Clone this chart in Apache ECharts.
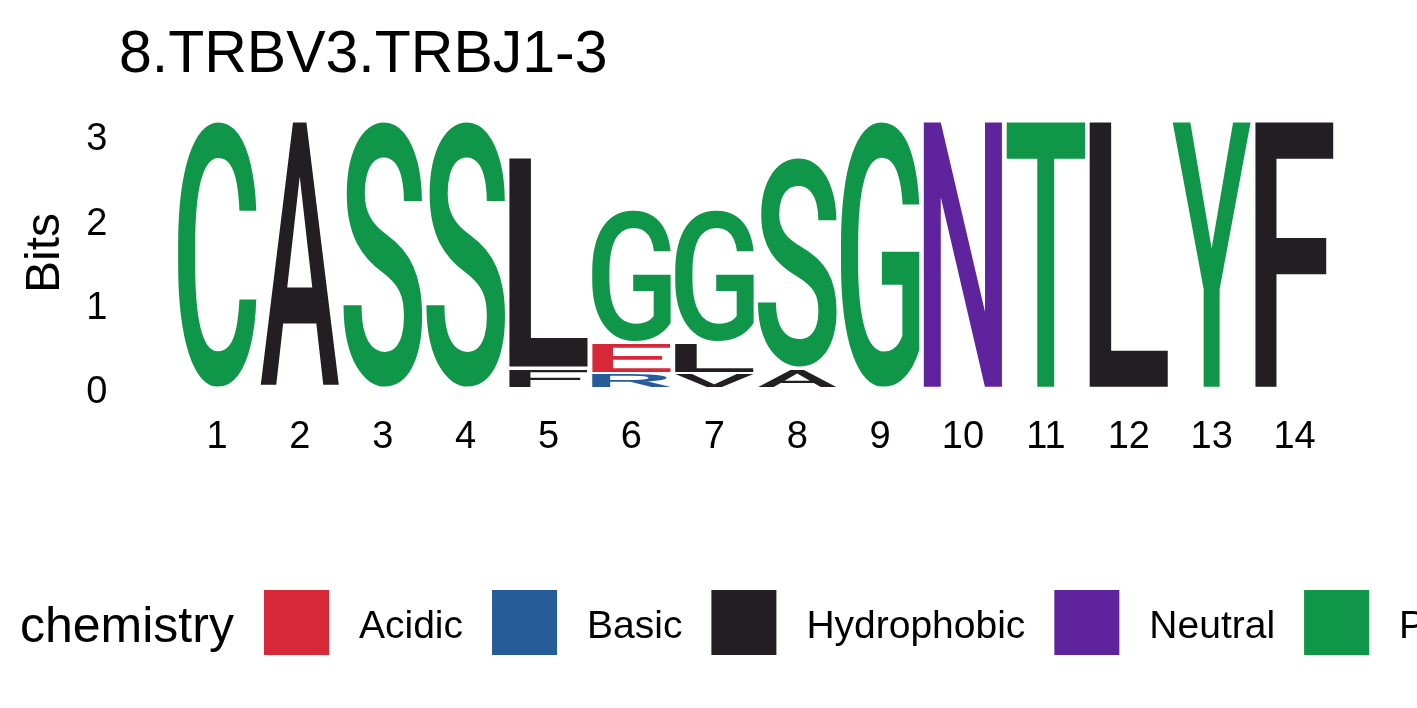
<!DOCTYPE html>
<html>
<head>
<meta charset="utf-8">
<script src="https://cdn.jsdelivr.net/npm/echarts@6/dist/echarts.min.js"></script>
<style>
html, body { margin: 0; padding: 0; background: #fff; }
#chart { width: 1417px; height: 708px; }
</style>
</head>
<body>
<div id="chart"></div>
<script>
//////////// data ////////////
// positions on the x axis
var positions = ['1', '2', '3', '4', '5', '6', '7', '8', '9', '10', '11', '12', '13', '14'];
// letters of each column, bottom to top
var stackLetters = [
	['C'], ['A'], ['S'], ['S'], ['F', 'L'], ['R', 'E', 'G'], ['V', 'L', 'G'],
	['A', 'S'], ['G'], ['N'], ['T'], ['L'], ['Y'], ['F']
];
// height (bits) of each letter, same order
var stackBits = [
	[3.18], [3.18], [3.18], [3.18], [0.24, 2.51], [0.18, 0.36, 1.58], [0.18, 0.36, 1.58],
	[0.24, 2.51], [3.18], [3.18], [3.18], [3.18], [3.18], [3.18]
];
// chemistry classes
var chemistryNames = ['Acidic', 'Basic', 'Hydrophobic', 'Neutral', 'Polar'];
var chemistryColors = ['#D62839', '#255C99', '#221E22', '#5E239D', '#109648'];
var chemistryLetters = ['DE', 'HKR', 'AFILMPVW', 'NQ', 'CGSTY'];
var yTicks = [0, 1, 2, 3];

var FONT = 'Liberation Sans';
var LOGO_FONT = 'Roboto';
var LOGO_WEIGHT = 500;
var GLYPH_SIZE = 200;

//////////// glyph size ////////////
var measureCtx = document.createElement('canvas').getContext('2d');
var glyphCache = {};
function glyphBox(ch) {
	if (glyphCache[ch]) return glyphCache[ch];
	measureCtx.font = LOGO_WEIGHT + ' ' + GLYPH_SIZE + 'px "' + LOGO_FONT + '"';
	measureCtx.textAlign = 'left';
	measureCtx.textBaseline = 'middle';
	var m = measureCtx.measureText(ch);
	glyphCache[ch] = {
		left: m.actualBoundingBoxLeft,
		w: m.actualBoundingBoxLeft + m.actualBoundingBoxRight,
		ascent: m.actualBoundingBoxAscent,
		h: m.actualBoundingBoxAscent + m.actualBoundingBoxDescent
	};
	return glyphCache[ch];
}

//////////// series ////////////
// stack letters per column, split by chemistry class
var seriesData = [], seriesLetters = [];
chemistryNames.forEach(function() { seriesData.push([]); seriesLetters.push([]); });
stackLetters.forEach(function(col, i) {
	var base = 0;
	col.forEach(function(ch, j) {
		var top = base + stackBits[i][j];
		for (var k = 0; k < chemistryLetters.length; k++) {
			if (chemistryLetters[k].indexOf(ch) >= 0) {
				seriesData[k].push([i, base, top]);
				seriesLetters[k].push(ch);
			}
		}
		base = top;
	});
});

function renderLetter(params, api) {
	var ch = seriesLetters[params.seriesIndex][params.dataIndex];
	var color = chemistryColors[params.seriesIndex];
	var p0 = api.coord([api.value(0), api.value(1)]);
	var p1 = api.coord([api.value(0), api.value(2)]);
	var band = api.size([1, 0])[0];
	var w = band - 4;
	var gap = 1.3;
	var yTop = p1[1] + gap, yBot = p0[1] - gap;
	var g = glyphBox(ch);
	return {
		type: 'text',
		x: p0[0] - w / 2,
		y: yTop,
		scaleX: w / g.w,
		scaleY: (yBot - yTop) / g.h,
		silent: true,
		style: {
			text: ch,
			x: g.left,
			y: g.ascent,
			fill: color,
			fontSize: GLYPH_SIZE,
			fontFamily: LOGO_FONT,
			fontWeight: LOGO_WEIGHT,
			align: 'left',
			verticalAlign: 'middle'
		}
	};
}

var series = chemistryNames.map(function(name, k) {
	return {
		name: name,
		type: 'custom',
		renderItem: renderLetter,
		itemStyle: {color: chemistryColors[k]},
		encode: {x: 0, y: [1, 2]},
		data: seriesData[k]
	};
});

//////////// chart ////////////
var chart = echarts.init(document.getElementById('chart'));
var option = {
	animation: false,
	backgroundColor: '#fff',
	textStyle: {fontFamily: FONT},
	title: [
		{
			text: '8.TRBV3.TRBJ1-3',
			left: 114,
			top: 21,
			textStyle: {fontSize: 59, fontWeight: 'normal', color: '#000', fontFamily: FONT}
		},
		{
			text: 'chemistry',
			left: 15,
			top: 598,
			textStyle: {fontSize: 50, fontWeight: 'normal', color: '#000', fontFamily: FONT}
		}
	],
	legend: {
		left: 264,
		top: 590,
		width: 3000,
		padding: 0,
		icon: 'rect',
		itemWidth: 65,
		itemHeight: 65,
		itemGap: 29,
		selectedMode: false,
		formatter: function(name) { return '{t|' + name + '}'; },
		textStyle: {
			fontSize: 39, color: '#000', fontFamily: FONT,
			rich: {t: {fontSize: 39, color: '#000', fontFamily: FONT, padding: [10, 0, 0, 25]}}
		},
		data: chemistryNames
	},
	grid: {left: 175.5, right: 81, top: 118, bottom: 320},
	xAxis: {
		type: 'category',
		data: positions,
		boundaryGap: true,
		axisLine: {show: false},
		axisTick: {show: false},
		axisLabel: {fontSize: 38, color: '#000', margin: 31, interval: 0}
	},
	yAxis: {
		type: 'value',
		min: yTicks[0],
		max: 3.2,
		interval: 1,
		name: 'Bits',
		nameLocation: 'middle',
		nameGap: 106,
		nameTextStyle: {fontSize: 48, color: '#000'},
		axisLine: {show: false},
		axisTick: {show: false},
		splitLine: {show: false},
		axisLabel: {fontSize: 38, color: '#000', margin: 68, verticalAlign: 'top', lineHeight: 10, showMaxLabel: false}
	},
	series: series
};
chart.setOption(option);
</script>
</body>
</html>
